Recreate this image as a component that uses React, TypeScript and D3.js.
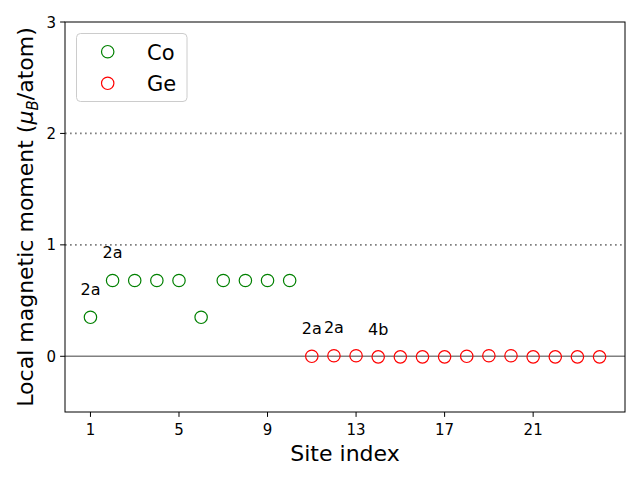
import React from "react";
import * as d3 from "d3";

const coSites = [1, 2, 3, 4, 5, 6, 7, 8, 9, 10];
const coMoments = [0.35, 0.68, 0.68, 0.68, 0.68, 0.35, 0.68, 0.68, 0.68, 0.68];
const geSites = [11, 12, 13, 14, 15, 16, 17, 18, 19, 20, 21, 22, 23, 24];
const geMoments = [0.0, 0.005, 0.005, -0.005, -0.005, -0.005, -0.005, 0.0, 0.005, 0.005, -0.005, -0.005, -0.005, -0.005];
const labelSites = [1, 2, 11, 12, 14];
const labelValues = [0.35, 0.68, 0.0, 0.005, -0.005];
const labelTexts = ["2a", "2a", "2a", "2a", "4b"];
const xTicks = [1, 5, 9, 13, 17, 21];
const yTicks = [0, 1, 2, 3];
const refLinesDotted = [1, 2];

const W = 640, H = 480;
const L = 65, R = 625, T = 22, B = 412;
const FONT = "DejaVu Sans, sans-serif";

export default function App() {
  const x = d3.scaleLinear().domain([-0.15, 25.15]).range([L, R]);
  const y = d3.scaleLinear().domain([-0.5, 3]).range([B, T]);
  return (
    <svg width={W} height={H} style={{ position: "absolute", left: 0, top: 0, background: "#fff" }} fontFamily={FONT}>
      <rect x={0} y={0} width={W} height={H} fill="#fff" />
      {refLinesDotted.map((v) => (
        <line key={v} x1={L} x2={R} y1={y(v)} y2={y(v)} stroke="#808080" strokeWidth={1.7} strokeDasharray="1.7,3.3" />
      ))}
      <line x1={L} x2={R} y1={y(0)} y2={y(0)} stroke="#808080" strokeWidth={1.5} />
      {coSites.map((s, i) => (
        <circle key={"co" + i} cx={x(s)} cy={y(coMoments[i])} r={6.2} fill="none" stroke="green" strokeWidth={1.2} />
      ))}
      {geSites.map((s, i) => (
        <circle key={"ge" + i} cx={x(s)} cy={y(geMoments[i])} r={6.2} fill="none" stroke="red" strokeWidth={1.2} />
      ))}
      {labelSites.map((s, i) => (
        <text key={"lb" + i} x={x(s)} y={y(labelValues[i] + 0.2)} textAnchor="middle" fontSize={16} fill="#000">
          {labelTexts[i]}
        </text>
      ))}
      <rect x={L} y={T} width={R - L} height={B - T} fill="none" stroke="#000" strokeWidth={1} />
      {xTicks.map((t) => (
        <g key={"xt" + t}>
          <line x1={x(t)} x2={x(t)} y1={B} y2={B + 4.9} stroke="#000" strokeWidth={1} />
          <text x={x(t)} y={B + 23} textAnchor="middle" fontSize={15}>{t}</text>
        </g>
      ))}
      {yTicks.map((t) => (
        <g key={"yt" + t}>
          <line x1={L - 4.9} x2={L} y1={y(t)} y2={y(t)} stroke="#000" strokeWidth={1} />
          <text x={L - 9} y={y(t) + 5.5} textAnchor="end" fontSize={15}>{t}</text>
        </g>
      ))}
      <text x={(L + R) / 2} y={461} textAnchor="middle" fontSize={22}>Site index</text>
      <text transform={`translate(33, ${(T + B) / 2}) rotate(-90)`} textAnchor="middle" fontSize={22}>
        Local magnetic moment (<tspan fontStyle="italic">μ</tspan>
        <tspan fontStyle="italic" fontSize={15} dy={5}>B</tspan>
        <tspan dy={-5}>/atom)</tspan>
      </text>
      <g>
        <rect x={76.5} y={33.5} width={110.5} height={68} rx={4} fill="#fff" fillOpacity={0.8} stroke="#ccc" strokeWidth={1} />
        <circle cx={107.7} cy={51.7} r={6.2} fill="none" stroke="green" strokeWidth={1.2} />
        <text x={147} y={59.5} fontSize={21}>Co</text>
        <circle cx={107.7} cy={83.3} r={6.2} fill="none" stroke="red" strokeWidth={1.2} />
        <text x={147} y={91} fontSize={21}>Ge</text>
      </g>
    </svg>
  );
}
